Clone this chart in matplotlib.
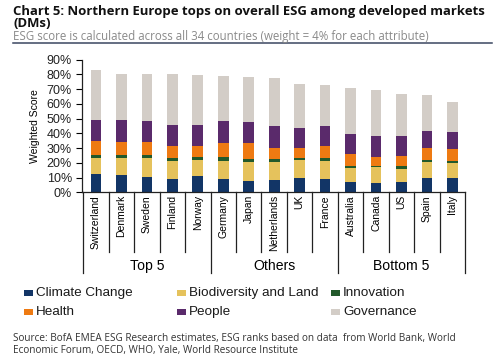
import matplotlib
matplotlib.use('Agg')
import matplotlib.pyplot as plt
from matplotlib.patches import Rectangle
import numpy as np

countries = ['Switzerland', 'Denmark', 'Sweden', 'Finland', 'Norway',
             'Germany', 'Japan', 'Netherlands', 'UK', 'France',
             'Australia', 'Canada', 'US', 'Spain', 'Italy']
groups = ['Top 5', 'Others', 'Bottom 5']

# cumulative tops (%)
climate_top = [12.5, 11.6, 10.7, 8.8, 11.1, 9.1, 7.9, 8.4, 10.0, 8.8, 6.8, 6.3, 7.3, 9.5, 9.8]
bio_top = [23.4, 23.4, 23.2, 21.5, 22.0, 21.5, 20.4, 20.9, 22.0, 21.5, 16.3, 17.0, 15.9, 20.9, 20.0]
innov_top = [25.6, 25.2, 25.6, 23.4, 23.8, 23.8, 22.7, 22.4, 23.1, 23.1, 18.1, 18.1, 18.1, 22.0, 21.1]
health_top = [35.1, 33.8, 33.8, 31.3, 31.3, 33.6, 33.3, 30.2, 30.2, 31.7, 26.1, 24.3, 24.7, 30.2, 29.7]
people_top = [49.2, 48.8, 48.1, 45.8, 45.8, 48.3, 47.6, 44.7, 43.5, 45.1, 39.5, 38.3, 38.3, 41.5, 40.8]
total = [83.2, 80.5, 80.5, 80.5, 79.6, 78.7, 78.2, 77.8, 73.7, 72.8, 70.7, 69.6, 66.4, 66.0, 61.0]

tops = [climate_top, bio_top, innov_top, health_top, people_top, total]
names = ['Climate Change', 'Biodiversity and Land', 'Innovation', 'Health', 'People', 'Governance']
colors = ['#123566', '#e5c25c', '#22592b', '#ee7a12', '#5a2a6b', '#d3cdc7']

plt.rcParams['font.family'] = ['Liberation Sans', 'DejaVu Sans']
narrow = ['Liberation Sans Narrow', 'Liberation Sans']
W, H = 500, 363

fig = plt.figure(figsize=(5, 3.63), dpi=100)
renderer = fig.canvas.get_renderer()


def fit(t, target_px):
    # scale a text's font so its width matches the reference (pixels)
    w = t.get_window_extent(renderer).width
    t.set_fontsize(t.get_fontsize() * target_px / w)


def px(xp, yp):
    return xp / W, 1 - yp / H


ax = fig.add_axes([0.1634, 0.470, 0.767, 0.366])

x = np.arange(len(countries))
bottom = np.zeros(len(countries))
for t, c, n in zip(tops, colors, names):
    t = np.array(t)
    ax.bar(x, t - bottom, 0.42, bottom=bottom, color=c, label=n)
    bottom = t

ax.set_xlim(-0.56, 14.5)
ax.set_ylim(0, 90)
ax.set_yticks(np.arange(0, 91, 10))
ax.set_yticklabels([f'{v}%' for v in range(0, 91, 10)], fontsize=9, color='#222222')
ax.tick_params(axis='y', length=4, width=0.8, pad=3)
ax.set_ylabel('Weighted Score', fontsize=7.5, family=narrow, labelpad=5)
ax.set_xticks([])
for s in ['top', 'right']:
    ax.spines[s].set_visible(False)
for s in ['left', 'bottom']:
    ax.spines[s].set_linewidth(0.9)
    ax.spines[s].set_color('#222222')

# table-like category axis
trans = ax.get_xaxis_transform()
for i, name in enumerate(countries):
    ax.text(i, -0.02, name, transform=trans, rotation=90, ha='center', va='top',
            fontsize=7.5, family=narrow)
for b in np.arange(-0.5, 15, 1):
    if b in (-0.5, 4.5, 9.5, 14.5):
        y0 = -0.61
    else:
        y0 = -0.445
    ax.plot([b, b], [0, y0], transform=trans, color='#222222', lw=0.9, clip_on=False)
for g, pos in zip(groups, [2, 7, 12]):
    gt = ax.text(pos, -0.555, g, transform=trans, ha='center', va='center', fontsize=9.5)
    if g == 'Top 5':
        fit(gt, 34)
        gfs = gt.get_fontsize()
    else:
        gt.set_fontsize(gfs)

# legend drawn by hand: fixed columns, two rows, like the reference
probe = fig.text(0, 0, 'Climate Change', fontsize=9)
fit(probe, 97)
lfs = probe.get_fontsize()
probe.remove()
col_marker = [24, 177, 331]
row_y = [293, 312]
for k, (n, c) in enumerate(zip(names, colors)):
    col, row = k % 3, k // 3
    x0, y0 = px(col_marker[col], row_y[row] + 3)
    fig.add_artist(Rectangle((x0, y0), 9 / W, 6 / H, transform=fig.transFigure,
                             color=c, lw=0))
    tx, ty = px(col_marker[col] + 12, row_y[row])
    fig.text(tx, ty, n, fontsize=lfs, va='center', ha='left', color='#1a1a1a')

tx, ty = px(13, 11)
t1 = fig.text(tx, ty, 'Chart 5: Northern Europe tops on overall ESG among developed markets',
              fontsize=10, fontweight='bold', va='center', ha='left',
              family=['Open Sans', 'DejaVu Sans'], color='#111111')
fit(t1, 473)
tx, ty = px(13, 23.5)
fig.text(tx, ty, '(DMs)', fontsize=t1.get_fontsize(), fontweight='bold', va='center', ha='left',
         family=['Open Sans', 'DejaVu Sans'], color='#111111')
tx, ty = px(13, 36.5)
st = fig.text(tx, ty, 'ESG score is calculated across all 34 countries (weight = 4% for each attribute)',
              fontsize=7.5, va='center', ha='left', color='#8a8a8a',
              family=['Open Sans', 'DejaVu Sans'])
fit(st, 417)
fig.add_artist(plt.Line2D([13 / W, 492 / W], [1 - 43 / H, 1 - 43 / H], color='#3a4660', lw=1.1))

tx, ty = px(13, 339)
s1 = fig.text(tx, ty, 'Source: BofA EMEA ESG Research estimates, ESG ranks based on data  from World Bank, World',
              fontsize=7, va='center', ha='left', color='#333333',
              family=['Open Sans', 'DejaVu Sans'])
fit(s1, 444)
tx, ty = px(13, 350)
fig.text(tx, ty, 'Economic Forum, OECD, WHO, Yale, World Resource Institute',
         fontsize=s1.get_fontsize(), va='center', ha='left', color='#333333',
         family=['Open Sans', 'DejaVu Sans'])

fig.savefig('out.png', dpi=100)
